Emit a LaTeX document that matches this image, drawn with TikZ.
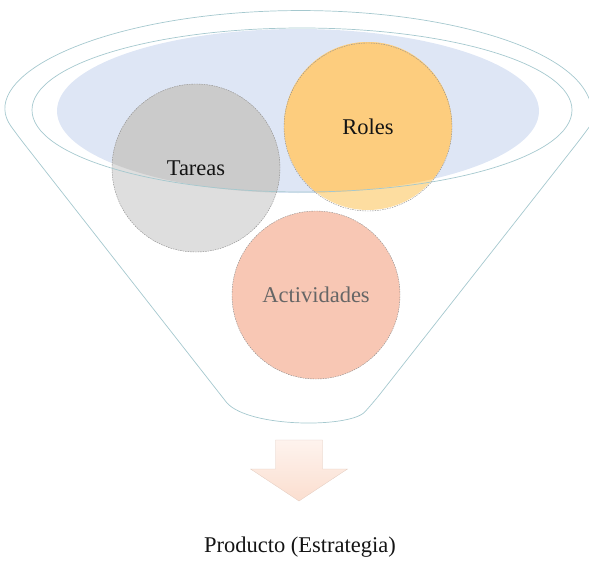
\documentclass[tikz,border=0pt]{standalone}
\usepackage{fontspec}
\setmainfont{Liberation Serif}
\begin{document}
\begin{tikzpicture}[x=1pt,y=-1pt,
  funnelline/.style={draw=rimcol, line width=0.7pt},
  bubble/.style={circle, minimum size=168pt, inner sep=0pt,
    draw=black!45, line width=0.4pt, dash pattern=on 1.5pt off 1pt,
    font=\fontsize{22.5}{26}\selectfont, text=black!92},
  caption/.style={font=\fontsize{22.5}{26}\selectfont, text=black!92, anchor=base}]
\definecolor{rimcol}{RGB}{165,200,206}
\definecolor{rimfill}{RGB}{222,230,245}
\definecolor{grayout}{RGB}{222,222,222}
\definecolor{grayin}{RGB}{203,203,203}
\definecolor{orgout}{RGB}{253,221,160}
\definecolor{orgin}{RGB}{253,205,126}
\definecolor{salmon}{RGB}{248,199,180}
\definecolor{arrowtop}{RGB}{254,243,238}
\definecolor{arrowbot}{RGB}{251,222,207}
\useasboundingbox (0,0) rectangle (589,562);

% funnel body: upper rim arc, two sides and a rounded bottom
\draw[funnelline, rounded corners=12pt] (227,403) -- (18,136)
  arc[start angle=166, end angle=374, x radius=291, y radius=101]
  -- (373,403) .. controls (350,428) and (250,428) .. (227,403);

% blue opening of the funnel
\fill[rimfill] (298,111) ellipse[x radius=241, y radius=82];

% bubble fills, darker where they lie over the opening
\fill[grayout] (196,168) circle[radius=84];
\fill[orgout] (368,126) circle[radius=84];
\fill[salmon] (316,295) circle[radius=84];
\begin{scope}
  \clip (298,111) ellipse[x radius=241, y radius=82];
  \fill[grayin] (196,168) circle[radius=84];
  \fill[orgin] (368,126) circle[radius=84];
\end{scope}

% inner rim ring
\draw[funnelline] (302,110) ellipse[x radius=270, y radius=82];

% labelled bubbles
\node[bubble] (tareas) at (196,168) {Tareas};
\node[bubble] (roles) at (368,127) {Roles};
\node[bubble, text=black!60] (actividades) at (316,295) {Actividades};

% output arrow
\path[top color=arrowtop, bottom color=arrowbot, draw=arrowbot!80!gray, line width=0.3pt]
  (275.5,440) -- (322.5,440) -- (322.5,469) -- (347.5,469) -- (299,501)
  -- (250.5,469) -- (275.5,469) -- cycle;
\coordinate (arrowtip) at (299,501);

\node[caption] (producto) at (300,552) {Producto (Estrategia)};
\end{tikzpicture}
\end{document}
